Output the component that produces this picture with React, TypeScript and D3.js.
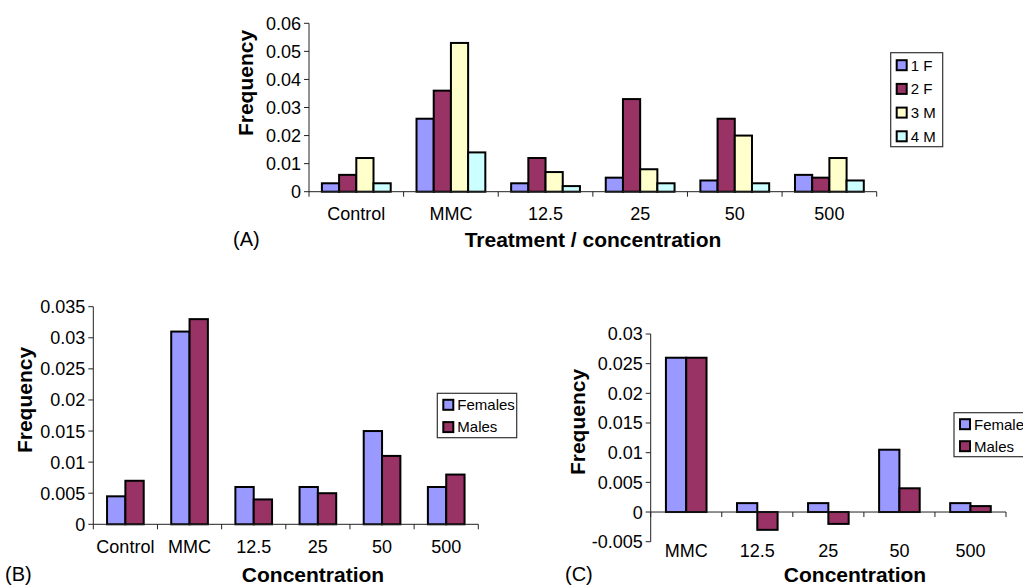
import React, { useEffect, useRef } from 'react';
import * as d3 from 'd3';

// panel A: four animals, six treatments
const catsA = ['Control', 'MMC', '12.5', '25', '50', '500'];
const seriesA = ['1 F', '2 F', '3 M', '4 M'];
const valsA1F = [0.003, 0.026, 0.003, 0.005, 0.004, 0.006];
const valsA2F = [0.006, 0.036, 0.012, 0.033, 0.026, 0.005];
const valsA3M = [0.012, 0.053, 0.007, 0.008, 0.020, 0.012];
const valsA4M = [0.003, 0.014, 0.002, 0.003, 0.003, 0.004];
const ticksA = [0, 0.01, 0.02, 0.03, 0.04, 0.05, 0.06];

// panel B: pooled by sex
const catsB = ['Control', 'MMC', '12.5', '25', '50', '500'];
const seriesB = ['Females', 'Males'];
const valsBFemales = [0.0045, 0.031, 0.006, 0.006, 0.015, 0.006];
const valsBMales = [0.007, 0.033, 0.004, 0.005, 0.011, 0.008];
const ticksB = [0, 0.005, 0.01, 0.015, 0.02, 0.025, 0.03, 0.035];

// panel C: control subtracted
const catsC = ['MMC', '12.5', '25', '50', '500'];
const seriesC = ['Females', 'Males'];
const valsCFemales = [0.026, 0.0015, 0.0015, 0.0105, 0.0015];
const valsCMales = [0.026, -0.003, -0.002, 0.004, 0.001];
const ticksC = [-0.005, 0, 0.005, 0.01, 0.015, 0.02, 0.025, 0.03];

const FONT = '"Liberation Sans", Arial, sans-serif';
const colors = ['#9999ff', '#993366', '#ffffcc', '#ccffff'];

function drawPanel(svg, cfg) {
    const { cats, series, values, ticks, left, right, top, bottom, catY } = cfg;
    const g = svg.append('g');

    const x = d3.scaleBand().domain(cats).range([left, right]).padding(0);
    const y = d3.scaleLinear().domain([ticks[0], ticks[ticks.length - 1]]).range([bottom, top]);
    const bw = x.bandwidth();
    const barW = bw / (series.length + 1.5);    // excel style gap width 150%
    const off = (bw - barW * series.length) / 2;

    // y axis
    g.append('line')
        .attr('x1', left).attr('x2', left)
        .attr('y1', y(ticks[0])).attr('y2', y(ticks[ticks.length - 1]))
        .attr('stroke', '#222').attr('stroke-width', 1);
    g.selectAll('.ytick').data(ticks).enter().append('line')
        .attr('x1', left - 5).attr('x2', left)
        .attr('y1', d => y(d)).attr('y2', d => y(d))
        .attr('stroke', '#222');
    g.selectAll('.ylab').data(ticks).enter().append('text')
        .attr('x', left - 8)
        .attr('y', d => y(d))
        .attr('dy', '0.36em')
        .attr('text-anchor', 'end')
        .attr('font-family', FONT).attr('font-size', 18)
        .text(d => String(d));

    // bars
    series.forEach((s, si) => {
        g.selectAll('.bar' + si).data(values[si]).enter().append('rect')
            .attr('x', (d, i) => x(cats[i]) + off + si * barW)
            .attr('y', d => y(Math.max(0, d)))
            .attr('width', barW)
            .attr('height', d => Math.abs(y(d) - y(0)))
            .attr('fill', colors[si])
            .attr('stroke', '#000')
            .attr('stroke-width', 2);
    });

    // x axis at zero
    g.append('line')
        .attr('x1', left).attr('x2', right)
        .attr('y1', y(0)).attr('y2', y(0))
        .attr('stroke', '#222');
    const edges = cats.map(c => x(c)).concat([right]);
    g.selectAll('.xtick').data(edges).enter().append('line')
        .attr('x1', d => d).attr('x2', d => d)
        .attr('y1', y(0)).attr('y2', y(0) + 5)
        .attr('stroke', '#222');
    g.selectAll('.xlab').data(cats).enter().append('text')
        .attr('x', d => x(d) + bw / 2)
        .attr('y', catY)
        .attr('text-anchor', 'middle')
        .attr('font-family', FONT).attr('font-size', 18)
        .text(d => d);

    // y title
    g.append('text')
        .attr('transform', `translate(${cfg.yTitleX},${cfg.yTitleY}) rotate(-90)`)
        .attr('text-anchor', 'middle')
        .attr('font-family', FONT).attr('font-size', 21).attr('font-weight', 'bold')
        .text('Frequency');

    // x title
    g.append('text')
        .attr('x', cfg.xTitleX).attr('y', cfg.xTitleY)
        .attr('text-anchor', 'middle')
        .attr('font-family', FONT).attr('font-size', 21).attr('font-weight', 'bold')
        .text(cfg.xTitle);

    // panel letter
    g.append('text')
        .attr('x', cfg.letterX).attr('y', cfg.letterY)
        .attr('font-family', FONT).attr('font-size', 20)
        .text(cfg.letter);

    // legend
    const lg = g.append('g').attr('transform', `translate(${cfg.legX},${cfg.legY})`);
    lg.append('rect')
        .attr('width', cfg.legW).attr('height', cfg.legH)
        .attr('fill', '#fff').attr('stroke', '#333').attr('stroke-width', 1.2);
    series.forEach((s, si) => {
        const cy = cfg.legFirst + si * cfg.legStep;
        lg.append('rect')
            .attr('x', 6).attr('y', cy - 5).attr('width', 10).attr('height', 10)
            .attr('fill', colors[si]).attr('stroke', '#000').attr('stroke-width', 2);
        lg.append('text')
            .attr('x', 20).attr('y', cy).attr('dy', '0.36em')
            .attr('font-family', FONT).attr('font-size', 15)
            .text(s);
    });
}

export default function App() {
    const svgRef = useRef(null);

    useEffect(() => {
        const svg = d3.select(svgRef.current);
        svg.selectAll('*').remove();

        drawPanel(svg, {
            cats: catsA, series: seriesA, values: [valsA1F, valsA2F, valsA3M, valsA4M], ticks: ticksA,
            left: 309, right: 876.7, top: 23.3, bottom: 191.7, catY: 220,
            yTitleX: 253, yTitleY: 83, xTitle: 'Treatment / concentration', xTitleX: 593, xTitleY: 247,
            letter: '(A)', letterX: 233, letterY: 246,
            legX: 890.7, legY: 52.7, legW: 52, legH: 94, legFirst: 12.5, legStep: 23.7,
        });

        drawPanel(svg, {
            cats: catsB, series: seriesB, values: [valsBFemales, valsBMales], ticks: ticksB,
            left: 93.3, right: 478.3, top: 306.7, bottom: 524.3, catY: 553,
            yTitleX: 32, yTitleY: 400, xTitle: 'Concentration', xTitleX: 313, xTitleY: 582,
            letter: '(B)', letterX: 5, letterY: 581,
            legX: 437.3, legY: 393.3, legW: 79.4, legH: 44.4, legFirst: 11.5, legStep: 22.3,
        });

        drawPanel(svg, {
            cats: catsC, series: seriesC, values: [valsCFemales, valsCMales], ticks: ticksC,
            left: 650.7, right: 1006, top: 334, bottom: 541.7, catY: 557,
            yTitleX: 585, yTitleY: 422, xTitle: 'Concentration', xTitleX: 855, xTitleY: 582,
            letter: '(C)', letterX: 565, letterY: 581,
            legX: 954, legY: 412.7, legW: 80, legH: 44, legFirst: 11.5, legStep: 22,
        });
    }, []);

    return (
        <svg ref={svgRef} width={1023} height={586}
            style={{ position: 'absolute', left: 0, top: 0, background: '#fff' }}></svg>
    );
}
